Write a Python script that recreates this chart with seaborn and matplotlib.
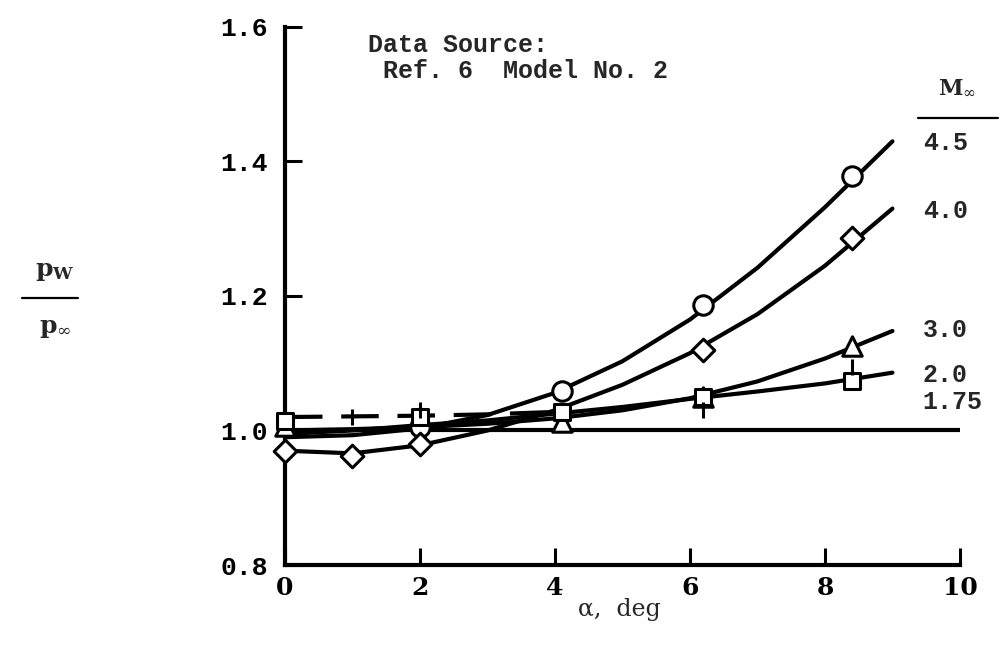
import matplotlib
matplotlib.use("Agg")
import matplotlib.pyplot as plt
import seaborn as sns
import pandas as pd
from matplotlib.lines import Line2D

# ---------------- data ----------------
curve_alpha = [0, 1, 2, 3, 4, 5, 6, 7, 8, 9]
curve_m45 = [0.990, 0.993, 1.003, 1.023, 1.056, 1.103, 1.165, 1.242, 1.332, 1.430]
curve_m40 = [0.970, 0.966, 0.978, 1.000, 1.030, 1.068, 1.115, 1.173, 1.245, 1.330]
curve_m30 = [1.000, 1.002, 1.005, 1.010, 1.018, 1.030, 1.048, 1.073, 1.107, 1.148]
curve_m20 = [0.995, 1.000, 1.008, 1.015, 1.025, 1.035, 1.047, 1.058, 1.070, 1.086]
dash_alpha = [0, 1, 2, 3, 4.1]
dash_m175 = [1.020, 1.021, 1.022, 1.024, 1.028]

pts_m45_alpha = [2, 4.1, 6.2, 8.4]
pts_m45 = [1.005, 1.058, 1.187, 1.378]
pts_m40_alpha = [0, 1, 2, 6.2, 8.4]
pts_m40 = [0.970, 0.962, 0.980, 1.120, 1.286]
pts_m30_alpha = [0, 4.1, 6.2, 8.4]
pts_m30 = [1.006, 1.013, 1.050, 1.125]
pts_m20_alpha = [0, 2, 4.1, 6.2, 8.4]
pts_m20 = [1.014, 1.020, 1.028, 1.050, 1.073]
pts_m175_alpha = [1, 2, 6.2, 8.4]
pts_m175 = [1.020, 1.030, 1.031, 1.094]

ref_level = 1.0
mach_labels = ["4.5", "4.0", "3.0", "2.0", "1.75"]
mach_label_y = [1.428, 1.326, 1.150, 1.083, 1.042]

x_ticks = [0, 2, 4, 6, 8, 10]
y_ticks = [0.8, 1.0, 1.2, 1.4, 1.6]

# ---------------- style ----------------
sns.set_style("ticks")
plt.rcParams["font.family"] = ["DejaVu Serif"]
plt.rcParams["mathtext.fontset"] = "dejavuserif"

fig = plt.figure(figsize=(10.01, 6.55), dpi=100)
ax = fig.add_axes([0.2847, 0.1374, 0.6743, 0.8214])

LW = 3.0
# smooth faired curves
for ys in [curve_m45, curve_m40, curve_m30, curve_m20]:
    sns.lineplot(x=curve_alpha, y=ys, ax=ax, color="black", lw=LW,
                 solid_capstyle="round", solid_joinstyle="round", zorder=3)
sns.lineplot(x=dash_alpha, y=dash_m175, ax=ax, color="black", lw=LW, zorder=3)
ax.lines[-1].set_linestyle((0, (9, 4.5)))

ax.axhline(ref_level, color="black", lw=LW, zorder=2)

mk = dict(color="white", edgecolor="black", linewidth=2.2, zorder=5, ax=ax,
          clip_on=False)
sns.scatterplot(x=pts_m45_alpha, y=pts_m45, marker="o", s=14 ** 2, **mk)
sns.scatterplot(x=pts_m40_alpha, y=pts_m40, marker="D", s=11.5 ** 2, **mk)
sns.scatterplot(x=pts_m30_alpha, y=pts_m30, marker="^", s=14 ** 2, **mk)
sns.scatterplot(x=pts_m20_alpha, y=pts_m20, marker="s", s=11.5 ** 2, **mk)
sns.scatterplot(x=pts_m175_alpha, y=pts_m175, marker="|", s=11 ** 2,
                color="black", linewidth=2.2, zorder=6, ax=ax)

# ---------------- axes ----------------
ax.set_xlim(0, 10)
ax.set_ylim(0.8, 1.6)
ax.set_xticks(x_ticks)
ax.set_yticks(y_ticks)
ax.set_xticklabels([str(t) for t in x_ticks], fontfamily="DejaVu Serif",
                   fontweight="bold", fontsize=18)
ax.set_yticklabels([f"{t:.1f}" for t in y_ticks], fontfamily="Liberation Mono",
                   fontweight="bold", fontsize=19)
ax.tick_params(axis="both", direction="in", length=12, width=2.2, colors="black")
ax.tick_params(axis="y", pad=12)
ax.tick_params(axis="x", pad=8)
for s in ["top", "right"]:
    ax.spines[s].set_visible(False)
for s in ["left", "bottom"]:
    ax.spines[s].set_linewidth(3)
    ax.spines[s].set_color("black")
ax.set_xlabel("")
ax.set_ylabel("")
ax.patch.set_alpha(0)

# annotation text
ax.text(1.23, 1.554, "Data Source:\n Ref. 6  Model No. 2", fontfamily="Liberation Mono",
        fontweight="bold", fontsize=18, va="center", ha="left", linespacing=1.1)

for lab, yv in zip(mach_labels, mach_label_y):
    ax.text(9.45, yv, lab, fontfamily="Liberation Mono", fontweight="bold",
            fontsize=18, va="center", ha="left", clip_on=False)
ax.text(9.955, 1.51, r"$\mathbf{M}_{\infty}$", fontsize=16, ha="center",
        va="center", clip_on=False)
fig.add_artist(Line2D([0.917, 0.997], [0.820, 0.820], color="black", lw=1.6))

# x label
fig.text(0.619, 0.069, "α,  deg", fontfamily="DejaVu Serif", fontsize=17,
         ha="center", va="center")

# y label as a fraction
fig.text(0.055, 0.585, r"$\mathbf{p}_{\mathbf{W}}$", fontsize=18, ha="center", va="center")
fig.add_artist(Line2D([0.022, 0.078], [0.545, 0.545], color="black", lw=1.6))
fig.text(0.055, 0.499, r"$\mathbf{p}_{\infty}$", fontsize=18, ha="center", va="center")

fig.savefig("out.png", dpi=100, facecolor="white")
